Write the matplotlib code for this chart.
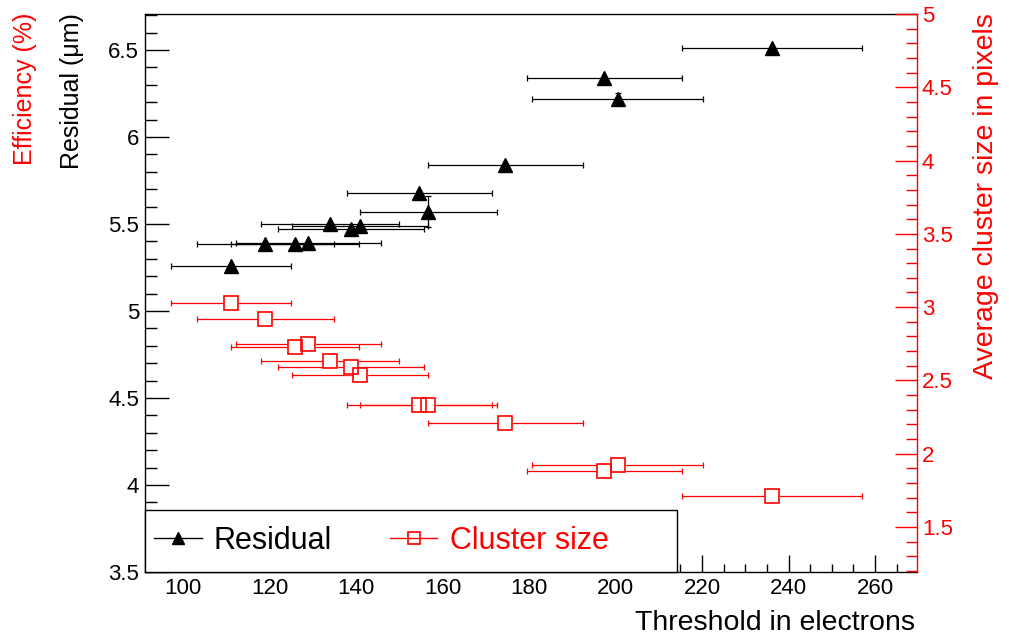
import matplotlib.pyplot as plt
from matplotlib.lines import Line2D
from matplotlib.patches import Rectangle
from matplotlib.ticker import MultipleLocator, FormatStrFormatter

plt.rcParams['font.family'] = ['Liberation Sans', 'DejaVu Sans']

# threshold scan points (electrons) with horizontal uncertainty
threshold = [111.1, 119.0, 125.9, 129.0, 134.0, 138.8, 140.9, 154.6, 156.7, 174.5, 197.4, 200.5, 236.1]
threshold_err = [13.9, 15.8, 14.8, 16.8, 16.0, 16.8, 15.8, 16.8, 15.8, 17.9, 17.9, 19.7, 20.8]

# residual in um
residual = [5.26, 5.385, 5.385, 5.39, 5.50, 5.47, 5.49, 5.68, 5.57, 5.84, 6.34, 6.22, 6.51]
residual_err = [0.0, 0.0, 0.0, 0.0, 0.0, 0.0, 0.0, 0.0, 0.09, 0.0, 0.0, 0.035, 0.0]

# mean cluster size in pixels
cluster = [3.03, 2.92, 2.73, 2.75, 2.63, 2.59, 2.54, 2.33, 2.33, 2.21, 1.88, 1.92, 1.71]

RED = '#ff0000'

fig = plt.figure(figsize=(10.09, 6.36), dpi=100)
ax = fig.add_axes([0.1437, 0.1006, 0.7651, 0.8774])
ax2 = ax.twinx()

ax.set_xlim(91.2, 269.7)
ax.set_ylim(3.5, 6.707)
ax2.set_ylim(1.193, 5.0)

# residual graph
ax.errorbar(threshold, residual, xerr=threshold_err, yerr=residual_err,
            fmt='none', ecolor='black', elinewidth=0.9, capsize=2.3, capthick=0.9, zorder=2)
ax.plot(threshold, residual, ls='none', marker='^', ms=9.5, color='black', zorder=3)

# cluster size graph
ax2.errorbar(threshold, cluster, xerr=threshold_err, fmt='none', ecolor=RED,
             elinewidth=0.9, capsize=2.3, capthick=0.9, zorder=2)
ax2.plot(threshold, cluster, ls='none', marker='s', ms=9.5, mfc='white', mec='white', zorder=3)
ax2.plot(threshold, cluster, ls='none', marker='s', ms=9.5, mfc='none', mec=RED, mew=1.2, zorder=4)

# axes styling
ax.spines['right'].set_visible(False)
ax2.spines['top'].set_visible(False)
ax2.spines['left'].set_visible(False)
ax2.spines['bottom'].set_visible(False)
ax2.spines['right'].set_color(RED)
for s in ('left', 'bottom', 'top'):
    ax.spines[s].set_linewidth(1.0)
ax2.spines['right'].set_linewidth(1.0)

ax.xaxis.set_major_locator(MultipleLocator(20))
ax.xaxis.set_minor_locator(MultipleLocator(5))
ax.yaxis.set_major_locator(MultipleLocator(0.5))
ax.yaxis.set_minor_locator(MultipleLocator(0.1))
ax.yaxis.set_major_formatter(FormatStrFormatter('%g'))
ax2.yaxis.set_major_locator(MultipleLocator(0.5))
ax2.yaxis.set_minor_locator(MultipleLocator(0.1))
ax2.yaxis.set_major_formatter(FormatStrFormatter('%g'))

ax.tick_params(axis='x', which='both', direction='in', top=False, labelsize=16, pad=4)
ax.tick_params(axis='x', which='major', length=12.5, width=1.0)
ax.tick_params(axis='x', which='minor', length=6, width=1.0)
ax.tick_params(axis='y', which='both', direction='in', right=False, labelsize=16, pad=4.3)
ax.tick_params(axis='y', which='major', length=17, width=1.0)
ax.tick_params(axis='y', which='minor', length=8.5, width=1.0)
ax2.tick_params(axis='y', which='both', direction='in', colors=RED, labelsize=16, pad=3.5)
ax2.tick_params(axis='y', which='major', length=16, width=1.0)
ax2.tick_params(axis='y', which='minor', length=8, width=1.0)

# titles
fig.text(915 / 1009, 6 / 636, 'Threshold in electrons', ha='right', va='baseline', fontsize=20.5)
fig.text(72 / 1009, 1 - 13 / 636, 'Residual (μm)', rotation=90, ha='center', va='top', fontsize=18)
fig.text(25 / 1009, 1 - 13 / 636, 'Efficiency (%)', rotation=90, ha='center', va='top',
         fontsize=18, color=RED)
fig.text(986 / 1009, 1 - 13 / 636, 'Average cluster size in pixels', rotation=90,
         ha='center', va='top', fontsize=20.5, color=RED)

# legend box
box = Rectangle((0, 0), 0.689, 0.111, transform=ax2.transAxes, facecolor='white',
                edgecolor='black', lw=1.0, zorder=4.5, clip_on=False)
ax2.add_patch(box)
handles = [
    Line2D([], [], color='black', lw=1.0, marker='^', ms=9),
    Line2D([], [], color=RED, lw=1.0, marker='s', ms=9, mfc='none', mec=RED, mew=1.2),
]
leg = ax2.legend(handles, ['Residual', 'Cluster size'], loc='center left',
                 bbox_to_anchor=(0.0, 0.0555), ncol=2, frameon=False, fontsize=22,
                 handlelength=1.55, handletextpad=0.4, columnspacing=1.9,
                 borderaxespad=0.0, borderpad=0.3)
leg.set_zorder(6)
for t in leg.get_texts()[1:]:
    t.set_color(RED)

fig.savefig('out.png', dpi=100)
